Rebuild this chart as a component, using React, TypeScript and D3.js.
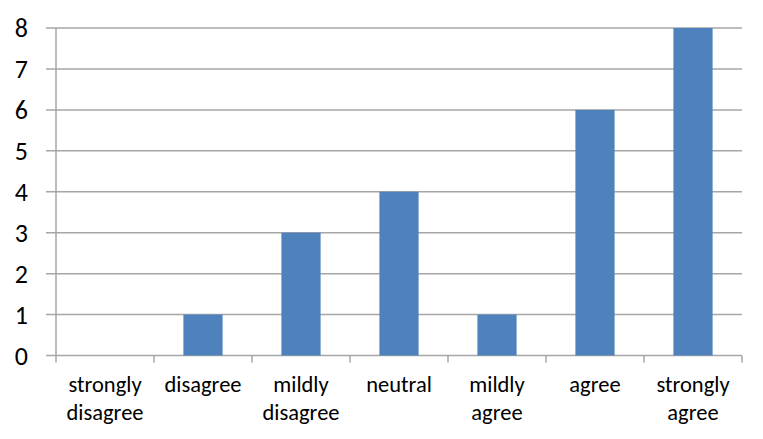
import React from "react";
import * as d3 from "d3";

const categories: string[][] = [
  ["strongly", "disagree"],
  ["disagree"],
  ["mildly", "disagree"],
  ["neutral"],
  ["mildly", "agree"],
  ["agree"],
  ["strongly", "agree"],
];
const values: number[] = [0, 1, 3, 4, 1, 6, 8];
const yTicks: number[] = [0, 1, 2, 3, 4, 5, 6, 7, 8];

const W = 763;
const H = 439;
const left = 56;
const right = 742;
const top = 28;
const bottom = 355.5;

export default function App() {
  const keys = categories.map((_, i) => String(i));
  const x = d3.scaleBand<string>().domain(keys).range([left, right]).paddingInner(0).paddingOuter(0);
  const y = d3.scaleLinear().domain([0, 8]).range([bottom, top]);
  const bw = x.bandwidth();
  const barW = bw * 0.4;
  const font = "Carlito, Lato, 'Open Sans', sans-serif";
  return (
    <svg width={W} height={H} style={{ position: "absolute", left: 0, top: 0, background: "#fff" }}>
      {yTicks.map((t) => (
        <g key={t}>
          <line x1={left - 10} x2={right} y1={y(t)} y2={y(t)} stroke="#A6A6A6" strokeWidth={1.5} />
          <text x={28} y={y(t)} dy="0.36em" textAnchor="end" fontFamily={font} fontSize={26} fill="#000">
            {t}
          </text>
        </g>
      ))}
      <line x1={left} x2={left} y1={top} y2={bottom} stroke="#A6A6A6" strokeWidth={1.5} />
      {keys.map((k) => (
        <line key={"t" + k} x1={x(k)!} x2={x(k)!} y1={bottom} y2={bottom + 7} stroke="#A6A6A6" strokeWidth={1.5} />
      ))}
      <line x1={right} x2={right} y1={bottom} y2={bottom + 7} stroke="#A6A6A6" strokeWidth={1.5} />
      {values.map((v, i) => (
        <rect
          key={i}
          x={x(String(i))! + (bw - barW) / 2}
          y={y(v)}
          width={barW}
          height={y(0) - y(v)}
          fill="#4F81BD"
        />
      ))}
      {categories.map((lines, i) => (
        <text key={"l" + i} textAnchor="middle" fontFamily={font} fontSize={22.5} fill="#000">
          {lines.map((ln, j) => (
            <tspan key={j} x={x(String(i))! + bw / 2} y={392 + j * 28}>
              {ln}
            </tspan>
          ))}
        </text>
      ))}
    </svg>
  );
}
